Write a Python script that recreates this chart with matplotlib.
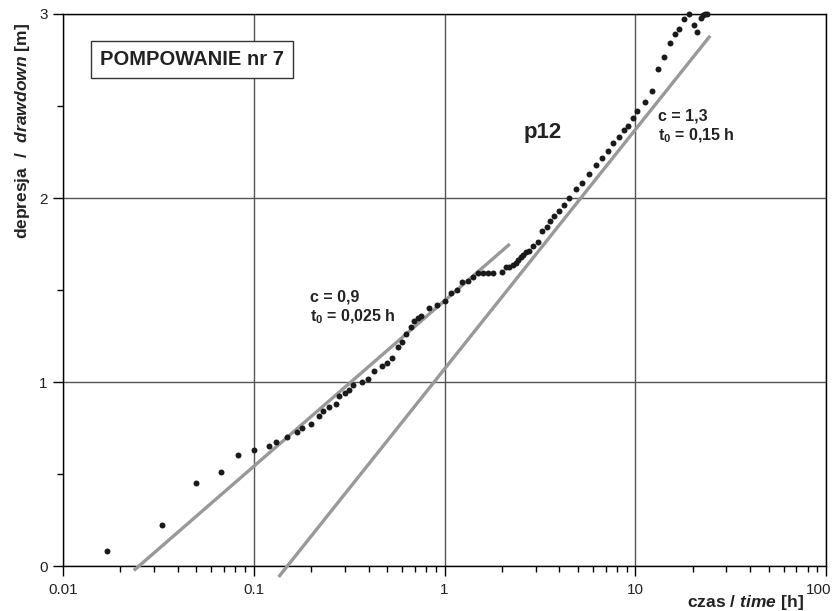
import numpy as np
import matplotlib
matplotlib.use("Agg")
import matplotlib.pyplot as plt
import matplotlib.transforms as mtransforms
from matplotlib.ticker import LogLocator, FixedLocator, NullFormatter

plt.rcParams['font.family'] = ['Liberation Sans', 'DejaVu Sans']
plt.rcParams['mathtext.fontset'] = 'custom'
plt.rcParams['mathtext.rm'] = 'Liberation Sans:bold'
plt.rcParams['mathtext.it'] = 'Liberation Sans:bold:italic'
plt.rcParams['mathtext.bf'] = 'Liberation Sans:bold'

# pumping test no. 7, piezometer p12: time [h] and drawdown [m]
time_h = [0.017, 0.033, 0.050, 0.067, 0.083, 0.100,
          0.120, 0.130, 0.149, 0.169, 0.180, 0.200, 0.219, 0.230, 0.249, 0.270,
          0.281, 0.300, 0.317, 0.333, 0.369, 0.399, 0.429, 0.469, 0.498, 0.529,
          0.569, 0.601, 0.628, 0.667, 0.695, 0.724, 0.750, 0.829, 0.917, 1.000,
          1.078, 1.167, 1.240, 1.333, 1.416, 1.504, 1.596, 1.690, 1.790,
          2.00, 2.09, 2.19, 2.28, 2.36, 2.44, 2.51, 2.59, 2.67, 2.76,
          2.92, 3.08, 3.23, 3.43, 3.57, 3.76, 3.98, 4.25, 4.48, 4.89,
          5.24, 5.72, 6.23, 6.72, 7.22, 7.67, 8.18, 8.73, 9.20, 9.69,
          10.25, 11.25, 12.24, 13.12, 14.15, 15.2, 16.1, 17.0, 18.08, 19.2,
          20.2, 21.0, 22.0, 22.75, 23.2, 23.9]
drawdown_m = [0.082, 0.221, 0.453, 0.512, 0.603, 0.630,
              0.652, 0.672, 0.703, 0.730, 0.752, 0.772, 0.813, 0.842, 0.862, 0.880,
              0.924, 0.942, 0.955, 0.984, 1.002, 1.015, 1.060, 1.089, 1.102, 1.132,
              1.192, 1.219, 1.259, 1.300, 1.332, 1.346, 1.359, 1.400, 1.420, 1.440,
              1.482, 1.500, 1.542, 1.551, 1.569, 1.591, 1.591, 1.591, 1.591,
              1.600, 1.623, 1.623, 1.636, 1.645, 1.663, 1.681, 1.690, 1.708, 1.714,
              1.739, 1.759, 1.821, 1.841, 1.873, 1.902, 1.929, 1.962, 2.000, 2.050,
              2.080, 2.129, 2.178, 2.219, 2.255, 2.300, 2.333, 2.370, 2.391, 2.433,
              2.473, 2.523, 2.583, 2.699, 2.768, 2.840, 2.890, 2.917, 2.971, 3.000,
              2.940, 2.900, 2.976, 2.995, 3.000, 3.000]

# straight-line (Cooper-Jacob) fits: s = c * log10(t / t0)
fit_c = [0.9, 1.3]
fit_t0 = [0.025, 0.15]
fit_t_range = [(0.0235, 2.2), (0.135, 24.7)]
fit_labels = ["c = 0,9\nt$_0$ = 0,025 h", "c = 1,3\nt$_0$ = 0,15 h"]

x_ticks = [0.01, 0.1, 1, 10, 100]
x_tick_labels = ["0.01", "0.1", "1", "10", "100"]
y_ticks = [0, 1, 2, 3]

fig = plt.figure(figsize=(8.37, 6.11), dpi=100)
ax = fig.add_axes([0.0753, 0.0736, 0.9116, 0.9035])

ax.set_xscale('log')
ax.set_xlim(0.01, 100)
ax.set_ylim(0, 3)

ax.set_xticks(x_ticks)
ax.set_xticklabels(x_tick_labels)
ax.xaxis.set_minor_locator(LogLocator(base=10, subs=np.arange(2, 10)))
ax.xaxis.set_minor_formatter(NullFormatter())
ax.set_yticks(y_ticks)
ax.set_yticklabels([str(v) for v in y_ticks])
ax.yaxis.set_minor_locator(FixedLocator([0.5, 1.5, 2.5]))

ax.tick_params(axis='both', which='major', direction='out', length=7, width=1,
               labelsize=11, color='black', labelcolor='#222222')
ax.tick_params(axis='both', which='minor', direction='out', length=4, width=1,
               color='black')
ax.tick_params(axis='x', pad=5)
ax.tick_params(axis='y', pad=4)

# keep the last x tick label inside the figure edge
last_lbl = ax.get_xticklabels()[-1]
last_lbl.set_transform(last_lbl.get_transform() +
                       mtransforms.ScaledTranslation(-5 / 72, 0, fig.dpi_scale_trans))

ax.grid(True, which='major', color='#555555', linewidth=1.0)
ax.set_axisbelow(True)
for sp in ax.spines.values():
    sp.set_linewidth(1.0)
    sp.set_color('black')

# fitted lines
for c, t0, (ta, tb) in zip(fit_c, fit_t0, fit_t_range):
    tt = np.array([ta, tb])
    ax.plot(tt, c * np.log10(tt / t0), color='#999999', linewidth=2.4,
            solid_capstyle='butt', clip_on=False, zorder=3)

# measured drawdown
ax.plot(time_h, drawdown_m, linestyle='none', marker='o', markersize=4.3,
        color='#1a1a1a', markeredgewidth=0, clip_on=False, zorder=4)

# annotations
ax.text(0.0485, 0.918, "POMPOWANIE nr 7", transform=ax.transAxes,
        fontsize=14.5, fontweight='bold', color='#222222', va='center', ha='left',
        bbox=dict(boxstyle='square,pad=0.45', facecolor='white',
                  edgecolor='#333333', linewidth=1.0))
ax.text(0.603, 0.785, "p12", transform=ax.transAxes, fontsize=16,
        fontweight='bold', color='#222222', ha='left', va='center')
ax.text(0.324, 0.468, fit_labels[0], transform=ax.transAxes, fontsize=11.5,
        fontweight='bold', color='#222222', ha='left', va='center',
        linespacing=1.2)
ax.text(0.780, 0.796, fit_labels[1], transform=ax.transAxes, fontsize=11.5,
        fontweight='bold', color='#222222', ha='left', va='center',
        linespacing=1.2)

# axis titles (bold, English part in italic)
fig.text(0.027, 0.786, r"$\mathrm{depresja\ \ /\ \ }\mathit{drawdown}\mathrm{\ [m]}$",
         rotation=90, fontsize=12.5, color='#222222', ha='center', va='center')
fig.text(0.960, 0.014, r"$\mathrm{czas\ /\ }\mathit{time}\mathrm{\ [h]}$",
         fontsize=12.5, color='#222222', ha='right', va='center')

fig.savefig("out.png", dpi=100)
